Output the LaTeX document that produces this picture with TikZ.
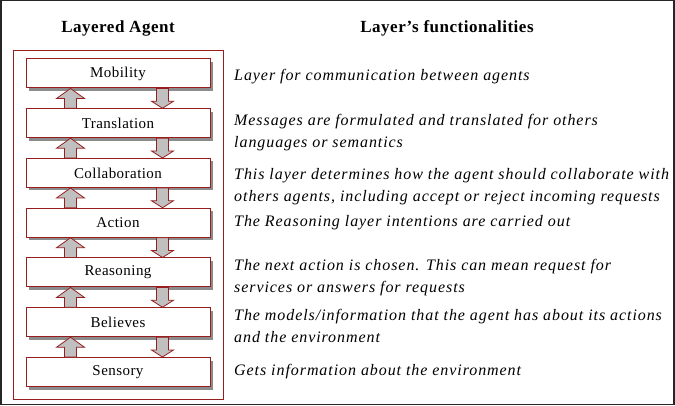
\documentclass[tikz,border=0pt]{standalone}
\usepackage{fontspec}
\setmainfont{Liberation Serif}
\newfontfamily\descfont[LetterSpace=5.8]{Liberation Serif}
\newfontfamily\layerfont[LetterSpace=3]{Liberation Serif}
\newfontfamily\headfont[LetterSpace=3]{Liberation Serif}
\usetikzlibrary{shadows, calc}
\definecolor{layerred}{RGB}{150,30,30}
\definecolor{arrowgray}{RGB}{192,192,192}
\definecolor{shadowgray}{RGB}{140,140,140}
\tikzstyle{layer} = [rectangle, minimum width=184pt, minimum height=29pt, text centered, draw=layerred, line width=1pt, fill=white, font=\layerfont\fontsize{15}{18}\selectfont, drop shadow={shadow xshift=3pt, shadow yshift=-3pt, fill=shadowgray, opacity=1}]
\tikzstyle{desc} = [anchor=west, align=left, inner sep=0pt, font=\descfont\fontsize{16}{22}\selectfont\itshape]
\tikzstyle{heading} = [font=\headfont\fontsize{17}{21}\selectfont\bfseries]
\tikzstyle{updown} = [draw=layerred, fill=arrowgray, line width=0.8pt]
\begin{document}
\begin{tikzpicture}[x=1pt, y=-1pt, node distance=49.75pt]
        \useasboundingbox (0,0) rectangle (675,406);
        \draw [line width=1.5pt, draw=black!85] (0.75,0.75) rectangle (674,404.5);
        \node (htitle) [heading] at (118,28) {Layered Agent};
        \node (ftitle) [heading] at (447,28) {Layer’s functionalities};
        \draw [draw=layerred, line width=1pt] (13,51) rectangle (223,399);
        \node (mob) [layer] at (118,73.5) {Mobility};
        \node (tra) [layer, below of=mob] {Translation};
        \node (col) [layer, below of=tra] {Collaboration};
        \node (act) [layer, below of=col] {Action};
        \node (rea) [layer, below of=act] {Reasoning};
        \node (bel) [layer, below of=rea] {Believes};
        \node (sen) [layer, below of=bel] {Sensory};
        \foreach \a/\b in {mob/tra, tra/col, col/act, act/rea, rea/bel, bel/sen} {
            \draw [updown] let \p1=(\a.south west), \p2=(\b.north west) in
                (\x1+39pt,\y2) -- (\x1+39pt,\y1-10pt) -- (\x1+31pt,\y1-10pt) -- (\x1+45pt,\y1)
                -- (\x1+59pt,\y1-10pt) -- (\x1+51pt,\y1-10pt) -- (\x1+51pt,\y2) -- cycle;
            \draw [updown] let \p1=(\a.south west), \p2=(\b.north west) in
                (\x1+131pt,\y1) -- (\x1+131pt,\y2+7pt) -- (\x1+126pt,\y2+7pt) -- (\x1+137pt,\y2)
                -- (\x1+148pt,\y2+7pt) -- (\x1+143pt,\y2+7pt) -- (\x1+143pt,\y1) -- cycle;
        }
        \node (dmob) [desc] at (234,77) {Layer for communication between agents};
        \node (dtra) [desc] at (234,133) {Messages are formulated and translated for others\\languages or semantics};
        \node (dcol) [desc] at (234,187) {This layer determines how the agent should collaborate with\\others agents, including accept or reject incoming requests};
        \node (dact) [desc] at (234,223) {The Reasoning layer intentions are carried out};
        \node (drea) [desc] at (234,278) {The next action is chosen. This can mean request for\\services or answers for requests};
        \node (dbel) [desc] at (234,326) {The models/information that the agent has about its actions\\and the environment};
        \node (dsen) [desc] at (234,372) {Gets information about the environment};
    \end{tikzpicture}
\end{document}
